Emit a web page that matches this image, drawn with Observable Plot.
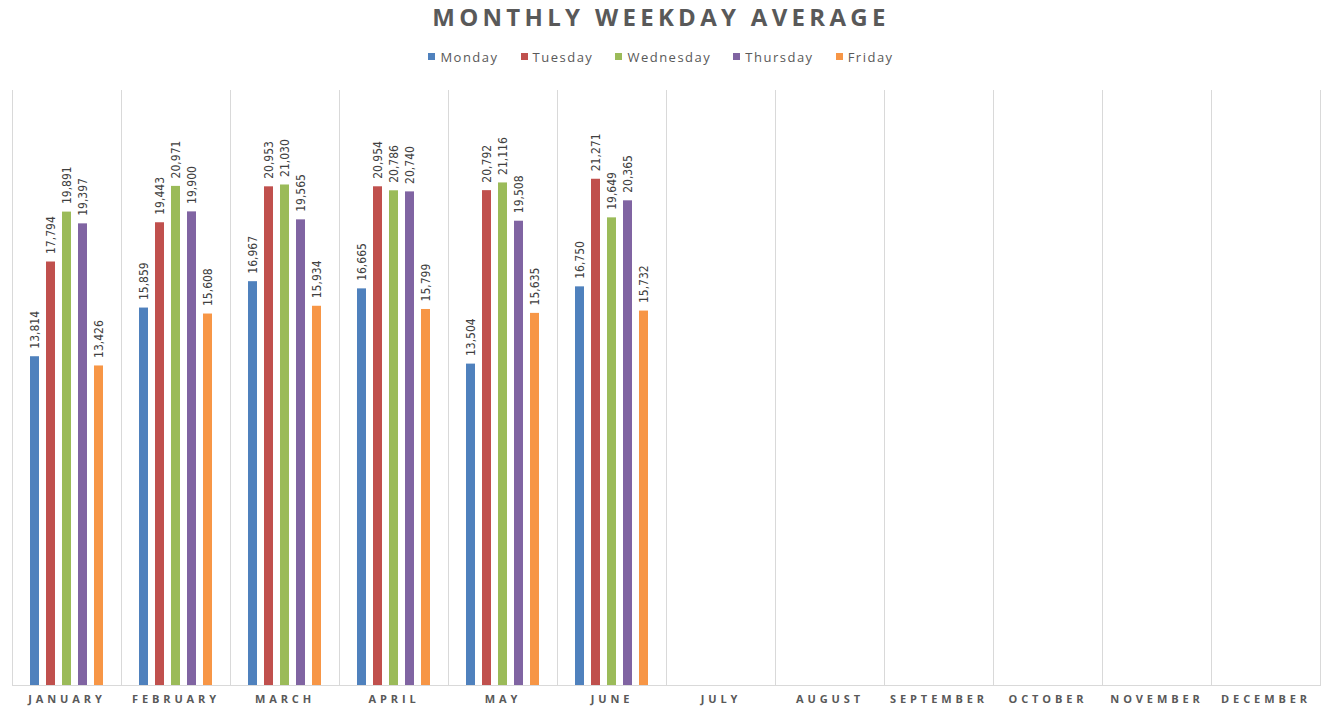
<!DOCTYPE html>
<html>
<head>
<meta charset="utf-8">
<script src="https://cdn.jsdelivr.net/npm/d3@7"></script>
<script src="https://cdn.jsdelivr.net/npm/@observablehq/plot@0.6"></script>
<style>
  html, body { margin: 0; padding: 0; background: #fff; }
  #title { height: 36px; line-height: 34px; text-align: center; font-family: "Open Sans", sans-serif; font-weight: 700; font-size: 24px; letter-spacing: 4.3px; color: #595959; }
  #legend { height: 34px; box-sizing: border-box; padding-top: 7px; display: flex; justify-content: center; gap: 22px; font-family: "Open Sans", sans-serif; font-size: 13px; letter-spacing: 1.5px; color: #595959; line-height: 20px; }
  #legend .item { display: flex; align-items: center; gap: 5px; }
  #legend .sw { width: 7px; height: 7px; display: inline-block; }
  #chart svg [aria-label^="fx-axis"] text { font-family: "Open Sans", sans-serif; font-weight: 700; font-size: 11px; letter-spacing: 3.9px; fill: #595959; }
  #chart svg g.vlabels text { font-stretch: condensed; }
</style>
</head>
<body>
<div id="title">MONTHLY WEEKDAY AVERAGE</div>
<div id="legend"></div>
<div id="chart"></div>
<script>
const months = ["JANUARY","FEBRUARY","MARCH","APRIL","MAY","JUNE","JULY","AUGUST","SEPTEMBER","OCTOBER","NOVEMBER","DECEMBER"];
const days = ["Monday","Tuesday","Wednesday","Thursday","Friday"];
const colors = ["#4F81BD","#C0504D","#9BBB59","#8064A2","#F79646"];
const monday    = [13814, 15859, 16967, 16665, 13504, 16750];
const tuesday   = [17794, 19443, 20953, 20954, 20792, 21271];
const wednesday = [19891, 20971, 21030, 20786, 21116, 19649];
const thursday  = [19397, 19900, 19565, 20740, 19508, 20365];
const friday    = [13426, 15608, 15934, 15799, 15635, 15732];

const series = [monday, tuesday, wednesday, thursday, friday];
const data = [];
months.forEach((m, mi) => series.forEach((vals, di) => {
  const v = vals[mi];
  data.push({month: m, day: days[di], value: v === undefined ? null : v});
}));

const legend = document.getElementById("legend");
days.forEach((d, i) => {
  const it = document.createElement("span");
  it.className = "item";
  it.innerHTML = `<span class="sw" style="background:${colors[i]}"></span><span>${d}</span>`;
  legend.appendChild(it);
});

const grid = "#d9d9d9";
const chart = Plot.plot({
  width: 1322,
  height: 638,
  marginTop: 20,
  marginBottom: 23,
  marginLeft: 11,
  marginRight: 2,
  style: {background: "#fff", fontSize: "11px"},
  fx: {domain: months, padding: 0, label: null, axis: "bottom", tickSize: 0, tickPadding: 10},
  x: {domain: days, paddingInner: 0.45, paddingOuter: 1.09, align: 0.5, axis: null},
  y: {domain: [0, 25000], axis: null},
  color: {domain: days, range: colors},
  marks: [
    Plot.frame({anchor: "left", stroke: grid}),
    Plot.frame({anchor: "right", stroke: grid}),
    Plot.ruleY(data, {fx: "month", y: () => 0, stroke: grid}),
    Plot.barY(data, {fx: "month", x: "day", y: "value", fill: "day"}),
    Plot.text(data, {fx: "month", x: "day", y: "value", text: d => d.value == null ? null : d3.format(",")(d.value),
      rotate: -90, textAnchor: "start", dy: -8, fill: "#404040", className: "vlabels",
      fontFamily: "'DejaVu Sans Condensed', 'DejaVu Sans', sans-serif", fontSize: 12})
  ]
});
document.getElementById("chart").appendChild(chart);
</script>
</body>
</html>
